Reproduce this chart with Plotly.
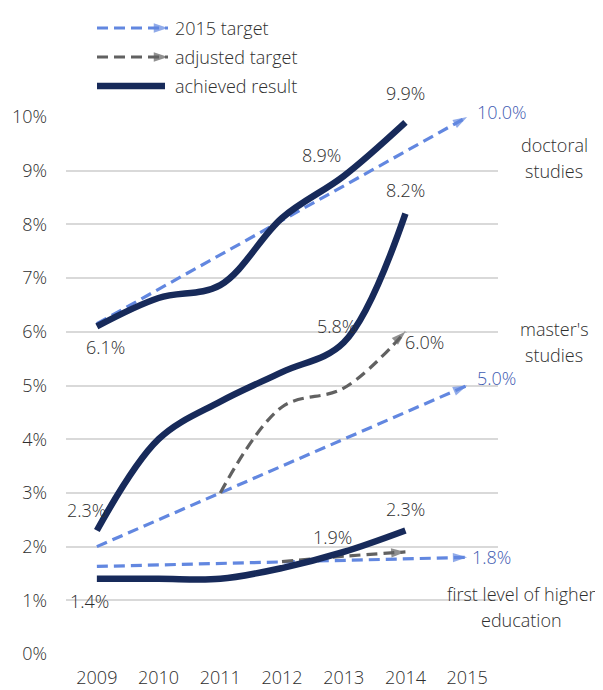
import plotly.graph_objects as go

YEARS = [2009, 2010, 2011, 2012, 2013, 2014, 2015]
ACHIEVED_YEARS = [2009, 2010, 2011, 2012, 2013, 2014]
TARGET_YEARS = [2009, 2015]

# doctoral studies
DOC_ACHIEVED = [6.1, 6.63, 6.87, 8.12, 8.9, 9.9]
DOC_TARGET = [6.15, 10.0]

# master's studies
MAS_ACHIEVED = [2.3, 4.0, 4.7, 5.25, 5.8, 8.2]
MAS_TARGET = [2.0, 5.0]
MAS_ADJ_YEARS = [2011, 2012, 2013, 2014]
MAS_ADJUSTED = [3.0, 4.6, 4.95, 6.0]

# first level of higher education
FIRST_ACHIEVED = [1.4, 1.4, 1.4, 1.6, 1.9, 2.3]
FIRST_TARGET = [1.63, 1.8]
FIRST_ADJ_YEARS = [2012, 2013, 2014]
FIRST_ADJUSTED = [1.72, 1.82, 1.9]

Y_TICKS = list(range(0, 11))

NAVY = "#172a5a"
BLUE = "#6287e0"
BLUE_TEXT = "#3f5cb2"
GREY = "#616161"
TEXT = "#2e2e2e"
GRID = "#d9d9d9"
FONT = "Open Sans, Noto Sans, sans-serif"

# the page body has an 8px margin, so the figure is drawn 8px in from the window corner
OFF = 8
W, H = 603 - OFF, 690 - OFF


def arrow_line(x, y, color, dash=True):
    sizes = [0] * (len(x) - 1) + [15]
    return go.Scatter(
        x=x, y=y, mode="lines+markers" if dash else "lines",
        line={"color": color, "width": 3.2 if dash else 6.5,
              "dash": "11px,6px" if dash else "solid", "shape": "spline", "smoothing": 1},
        marker={"symbol": "arrow", "size": sizes, "angleref": "previous", "color": color, "line": {"width": 0}},
        cliponaxis=False, hoverinfo="skip", showlegend=False,
    )


fig = go.Figure()
fig.add_trace(arrow_line(TARGET_YEARS, DOC_TARGET, BLUE))
fig.add_trace(arrow_line(TARGET_YEARS, MAS_TARGET, BLUE))
fig.add_trace(arrow_line(TARGET_YEARS, FIRST_TARGET, BLUE))
fig.add_trace(arrow_line(MAS_ADJ_YEARS, MAS_ADJUSTED, GREY))
fig.add_trace(arrow_line(FIRST_ADJ_YEARS, FIRST_ADJUSTED, GREY))
fig.add_trace(arrow_line(ACHIEVED_YEARS, DOC_ACHIEVED, NAVY, dash=False))
fig.add_trace(arrow_line(ACHIEVED_YEARS, MAS_ACHIEVED, NAVY, dash=False))
fig.add_trace(arrow_line(ACHIEVED_YEARS, FIRST_ACHIEVED, NAVY, dash=False))

# hand-made legend, drawn on a window-pixel overlay axis
legend_rows = [("2015 target", BLUE, True, 28), ("adjusted target", GREY, True, 57), ("achieved result", NAVY, False, 86)]
for label, color, dashed, py in legend_rows:
    tr = arrow_line([97, 168 if dashed else 165], [py, py], color, dash=dashed)
    tr.update(xaxis="x3", yaxis="y3")
    fig.add_trace(tr)
    fig.add_annotation(x=173, y=py, xref="x3", yref="y3", text=label, showarrow=False,
                       xanchor="left", yanchor="middle", font={"size": 18, "color": TEXT})


def pct(v):
    return f"{v:.1f}%"


# value labels: (year, value, dx, dy, colour, anchor)
labels = [
    (2009, DOC_ACHIEVED[0], 9, -21, TEXT, "center"),
    (2013, DOC_ACHIEVED[4], -22, 21, TEXT, "center"),
    (2014, DOC_ACHIEVED[5], 0, 29, TEXT, "center"),
    (2015, DOC_TARGET[1], 8, 5, BLUE_TEXT, "left"),
    (2009, MAS_ACHIEVED[0], -10, 20, TEXT, "center"),
    (2013, MAS_ACHIEVED[4], -7, 17, TEXT, "center"),
    (2014, MAS_ACHIEVED[5], 0, 24, TEXT, "center"),
    (2014, MAS_ADJUSTED[3], -2, -10, TEXT, "left"),
    (2015, MAS_TARGET[1], 8, 8, BLUE_TEXT, "left"),
    (2009, FIRST_ACHIEVED[0], -7, -22, TEXT, "center"),
    (2013, FIRST_ACHIEVED[4], -11, 15, TEXT, "center"),
    (2014, FIRST_ACHIEVED[5], 0, 21, TEXT, "center"),
    (2015, FIRST_TARGET[1], 3, 0, BLUE_TEXT, "left"),
]
for x, v, dx, dy, color, anchor in labels:
    fig.add_annotation(x=x, y=v, text=pct(v), showarrow=False, xanchor=anchor, yanchor="middle",
                       xshift=dx, yshift=dy, font={"size": 18, "color": color})

# group names on the right
groups = [(["doctoral", "studies"], 554, 145), (["master's", "studies"], 554, 329),
          (["first level of higher", "education"], 521, 594)]
for lines, px, py in groups:
    for i, line in enumerate(lines):
        fig.add_annotation(x=px, y=py + 26 * i, xref="x3", yref="y3", text=line, showarrow=False,
                           xanchor="center", yanchor="middle", font={"size": 18, "color": TEXT})

fig.update_layout(
    width=W, height=H,
    margin={"l": 0, "r": 0, "t": 0, "b": 0},
    paper_bgcolor="white", plot_bgcolor="rgba(0,0,0,0)",
    font={"family": FONT, "size": 18, "color": TEXT, "weight": 300},
    showlegend=False,
    xaxis={"domain": [(66 - OFF) / W, (498 - OFF) / W], "range": [2008.5, 2015.5], "tickvals": YEARS,
           "ticktext": [str(y) for y in YEARS], "showgrid": False, "zeroline": False,
           "showline": False, "ticks": "", "ticklabelstandoff": 11, "automargin": False,
           "fixedrange": True},
    yaxis={"domain": [1 - (654 - OFF) / H, 1 - (117 - OFF) / H], "range": [0, 10], "tickvals": Y_TICKS,
           "ticktext": [f"{t}%" for t in Y_TICKS], "showgrid": True, "gridcolor": GRID,
           "gridwidth": 2, "zeroline": False, "showline": False, "ticks": "",
           "ticklabelstandoff": 18, "automargin": False, "fixedrange": True},
    xaxis3={"domain": [0, 1], "range": [OFF, OFF + W], "visible": False, "anchor": "y3", "fixedrange": True},
    yaxis3={"domain": [0, 1], "range": [OFF + H, OFF], "visible": False, "anchor": "x3", "fixedrange": True},
)

fig.write_html("out.html")
